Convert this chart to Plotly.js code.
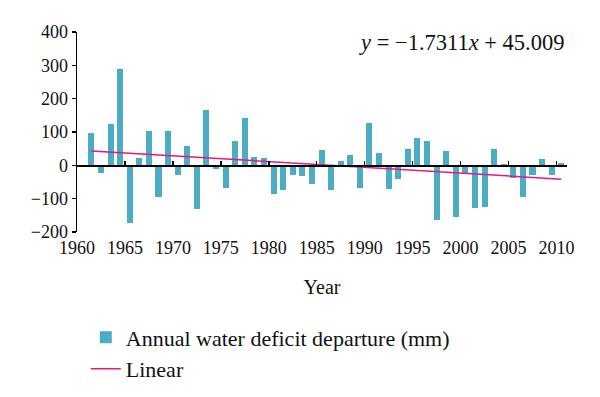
<!DOCTYPE html>
<html>
<head>
<meta charset="utf-8">
<script src="https://cdn.plot.ly/plotly-3.0.1.min.js"></script>
<style>html,body{margin:0;padding:0;background:#fff;}</style>
</head>
<body>
<div id="chart" style="width:600px;height:397px;"></div>
<script>
// Data
const years = [1961,1962,1963,1964,1965,1966,1967,1968,1969,1970,
               1971,1972,1973,1974,1975,1976,1977,1978,1979,1980,
               1981,1982,1983,1984,1985,1986,1987,1988,1989,1990,
               1991,1992,1993,1994,1995,1996,1997,1998,1999,2000,
               2001,2002,2003,2004,2005,2006,2007,2008,2009,2010];
const departure = [98,-23,123,288,-172,21,102,-96,104,-28,
                   58,-131,166,-10,-69,72,143,25,23,-87,
                   -74,-30,-31,-57,46,-75,14,31,-69,126,
                   38,-71,-42,50,82,74,-165,42,-155,-25,
                   -129,-126,50,3,-39,-94,-30,18,-29,7];
// Linear trend shown on the chart: y = -1.7311x + 45.009 (x = year index 1..n)
const trendSlope = -1.7311;
const trendIntercept = 45.009;
const xTickVals = [1960,1965,1970,1975,1980,1985,1990,1995,2000,2005,2010];
const xTickText = ['1960','1965','1970','1975','1980','1985','1990','1995','2000','2005','2010'];

const trendY = years.map((y, i) => trendSlope * (i + 1) + trendIntercept);
const trendX = years.map(y => y + 0.5);

const barW = 0.63;
const FONT = 'Liberation Serif, Times New Roman, serif';

const traces = [
  {
    type: 'bar',
    x: years,
    y: departure,
    width: barW,
    offset: 0.5 - barW / 2,
    marker: {color: '#4BACC6', line: {width: 0}},
    name: 'Annual water deficit departure (mm)',
    xaxis: 'x', yaxis: 'y'
  },
  {
    type: 'scatter',
    mode: 'lines',
    x: trendX,
    y: trendY,
    line: {color: '#E8177D', width: 1.5},
    name: 'Linear',
    xaxis: 'x2', yaxis: 'y'
  }
];

const xRange = [1960, 2011.1];
const layout = {
  width: 600, height: 397,
  margin: {l: 77, r: 33, t: 32, b: 165, autoexpand: false},
  paper_bgcolor: '#fff', plot_bgcolor: '#fff',
  font: {family: FONT, color: '#111', size: 18},
  bargap: 0,
  showlegend: true,
  legend: {
    xref: 'container', yref: 'container',
    x: 0.143, xanchor: 'left', y: 0.203, yanchor: 'top',
    font: {family: FONT, size: 22, color: '#111'},
    bgcolor: 'rgba(0,0,0,0)', tracegroupgap: 0
  },
  xaxis: {
    range: xRange,
    tickvals: xTickVals, ticktext: xTickText,
    showline: false, showgrid: false, zeroline: false,
    ticks: '', ticklabelstandoff: 3,
    tickfont: {family: FONT, size: 18, color: '#111'},
    title: {text: 'Year', font: {family: FONT, size: 20, color: '#111'}, standoff: 22}
  },
  xaxis2: {
    range: xRange, overlaying: 'x', anchor: 'free', position: 1/3, side: 'bottom',
    tickvals: xTickVals,
    showticklabels: false, showgrid: false, zeroline: false,
    showline: true, linecolor: '#000', linewidth: 1.5,
    ticks: 'inside', ticklen: 4, tickwidth: 1.5, tickcolor: '#000'
  },
  yaxis: {
    range: [-200, 400], dtick: 100,
    showline: true, linecolor: '#000', linewidth: 1.5,
    ticks: 'outside', ticklen: 4, tickwidth: 1.5, tickcolor: '#000',
    showgrid: false, zeroline: false,
    tickfont: {family: FONT, size: 18, color: '#111'}
  },
  annotations: [{
    xref: 'paper', yref: 'paper', x: 1, y: 0.95, xanchor: 'right', yanchor: 'middle',
    text: '<i>y</i> = −1.7311<i>x</i> + 45.009', showarrow: false,
    font: {family: FONT, size: 22.5, color: '#111'}
  }]
};

Plotly.newPlot('chart', traces, layout, {displayModeBar: false, staticPlot: true});
</script>
</body>
</html>
